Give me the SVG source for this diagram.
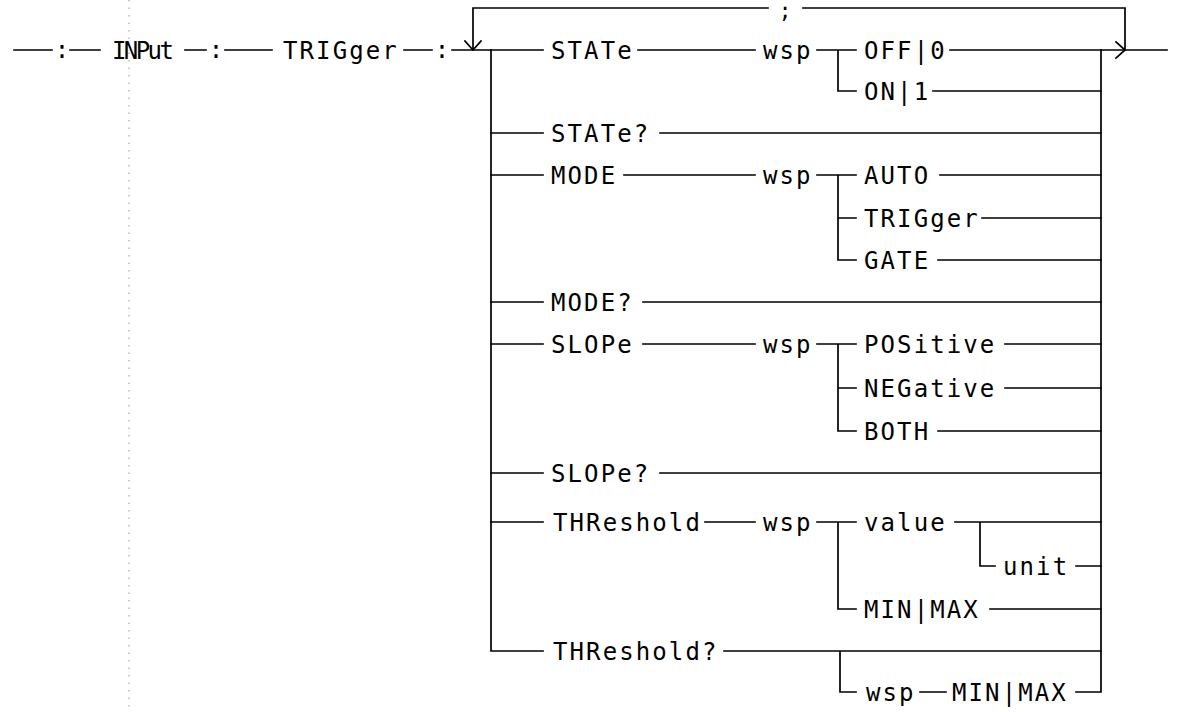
<svg xmlns="http://www.w3.org/2000/svg" width="1177" height="712" viewBox="0 0 1177 712">
<style>
.t{font-family:"DejaVu Sans Mono","Liberation Mono",monospace;font-size:24px;letter-spacing:2.1px;fill:#000}
.c{font-family:"DejaVu Sans Mono","Liberation Mono",monospace;font-size:24px;fill:#000;text-anchor:middle}
.l{fill:none;stroke:#000;stroke-width:1.7;stroke-linecap:square}
.d{fill:none;stroke:#aaa;stroke-width:1.2;stroke-dasharray:1.5 6}
</style>
<rect width="1177" height="712" fill="#fff"/>
<line class="d" x1="129" y1="0" x2="129" y2="712"/>
<g id="connectors">
<path class="l" d="M14,50H52 M70,50H100 M185,50H206 M225,50H272 M404,50H432 M452,50H543"/>
<path class="l" d="M768,8H473V50 M465,41L473,50L481,41"/>
<path class="l" d="M803,8H1125V50 M1116,42L1125,50L1116,58"/>
<path class="l" d="M491,50V651H543"/>
<path class="l" d="M1101,50V692H1076"/>
<path class="l" d="M491,133H543 M491,175H543 M491,302H543 M491,344H543 M491,473H543 M491,522H543"/>
<path class="l" d="M638,50H755 M817,50H856 M838,50V91H856 M950,50H1167 M933,91H1101"/>
<path class="l" d="M660,133H1101"/>
<path class="l" d="M624,175H755 M817,175H856 M838,175V260H856 M838,218H856 M940,175H1101 M982,218H1101 M938,260H1101"/>
<path class="l" d="M643,302H1101"/>
<path class="l" d="M643,344H755 M817,344H856 M838,344V431H856 M838,388H856 M1005,344H1101 M1005,388H1101 M938,431H1101"/>
<path class="l" d="M660,473H1101"/>
<path class="l" d="M705,522H755 M817,522H856 M838,522V609H856 M955,522H1101 M980,522V566H995 M1076,566H1101 M990,609H1101"/>
<path class="l" d="M724,651H1101 M840,651V692H856 M920,692H946"/>
</g>
<g id="n-colon1"><text class="c" x="62" y="58">:</text></g>
<g id="n-input"><text class="t" x="112" y="59" textLength="64">INPut</text></g>
<g id="n-colon2"><text class="c" x="216" y="58">:</text></g>
<g id="n-trigger"><text class="t" x="283" y="59">TRIGger</text></g>
<g id="n-colon3"><text class="c" x="442" y="58">:</text></g>
<g id="n-semicolon"><text class="c" x="785" y="18" style="font-size:21px">;</text></g>
<g id="n-state"><text class="t" x="551" y="59">STATe</text></g>
<g id="n-wsp1"><text class="t" x="763" y="59">wsp</text></g>
<g id="n-off"><text class="t" x="864" y="59">OFF|0</text></g>
<g id="n-on"><text class="t" x="864" y="100">ON|1</text></g>
<g id="n-stateq"><text class="t" x="551" y="142">STATe?</text></g>
<g id="n-mode"><text class="t" x="551" y="184">MODE</text></g>
<g id="n-wsp2"><text class="t" x="763" y="184">wsp</text></g>
<g id="n-auto"><text class="t" x="864" y="184">AUTO</text></g>
<g id="n-trig2"><text class="t" x="864" y="227">TRIGger</text></g>
<g id="n-gate"><text class="t" x="864" y="269">GATE</text></g>
<g id="n-modeq"><text class="t" x="551" y="311">MODE?</text></g>
<g id="n-slope"><text class="t" x="551" y="353">SLOPe</text></g>
<g id="n-wsp3"><text class="t" x="763" y="353">wsp</text></g>
<g id="n-pos"><text class="t" x="864" y="353">POSitive</text></g>
<g id="n-neg"><text class="t" x="864" y="397">NEGative</text></g>
<g id="n-both"><text class="t" x="864" y="440">BOTH</text></g>
<g id="n-slopeq"><text class="t" x="551" y="482">SLOPe?</text></g>
<g id="n-thr"><text class="t" x="553" y="531">THReshold</text></g>
<g id="n-wsp4"><text class="t" x="763" y="531">wsp</text></g>
<g id="n-value"><text class="t" x="864" y="531">value</text></g>
<g id="n-unit"><text class="t" x="1003" y="575">unit</text></g>
<g id="n-minmax1"><text class="t" x="864" y="618">MIN|MAX</text></g>
<g id="n-thrq"><text class="t" x="553" y="660">THReshold?</text></g>
<g id="n-wsp5"><text class="t" x="866" y="701">wsp</text></g>
<g id="n-minmax2"><text class="t" x="952" y="701">MIN|MAX</text></g>
</svg>
